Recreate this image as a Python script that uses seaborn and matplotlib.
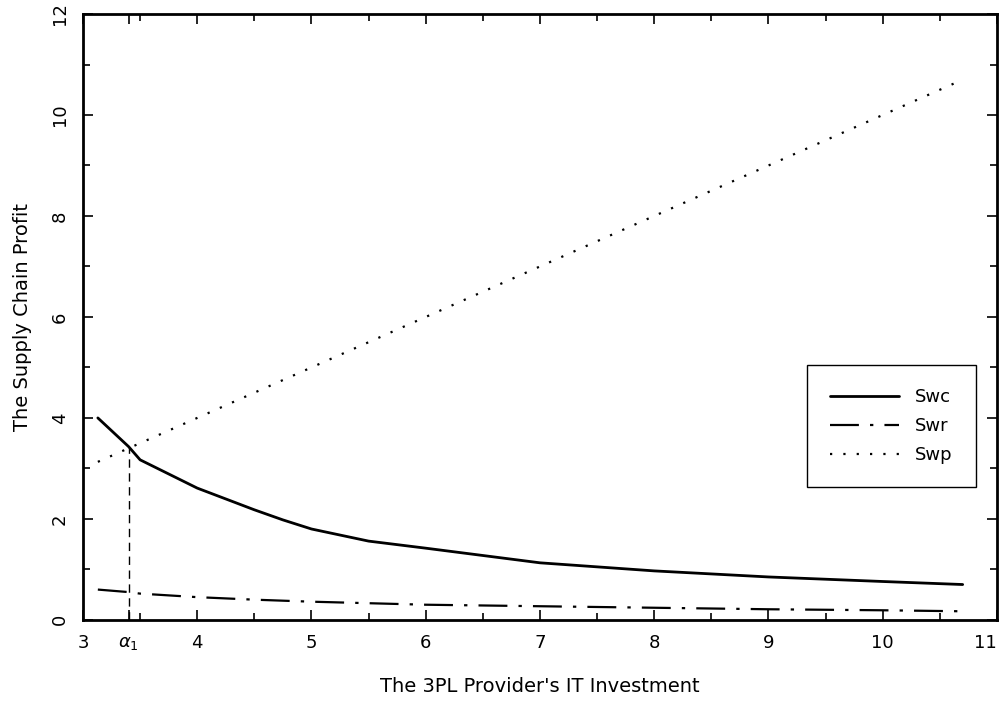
import pandas as pd
import matplotlib
matplotlib.use("Agg")
import matplotlib.pyplot as plt
from matplotlib.ticker import MultipleLocator
import seaborn as sns

# values
x_vals = [3.13, 3.4, 3.5, 4.0, 4.5, 4.75, 5.0, 5.5, 6.0, 7.0, 8.0, 9.0, 10.0, 10.7]
swc = [4.0, 3.43, 3.17, 2.61, 2.18, 1.98, 1.80, 1.56, 1.42, 1.13, 0.97, 0.85, 0.76, 0.70]
swr = [0.60, 0.55, 0.52, 0.45, 0.40, 0.38, 0.36, 0.33, 0.30, 0.27, 0.24, 0.21, 0.19, 0.17]
swp = [3.13, 3.4, 3.5, 4.0, 4.5, 4.75, 5.0, 5.5, 6.0, 7.0, 8.0, 9.0, 10.0, 10.7]
a1 = 3.4
a1_top = 3.43
xtick_pos = [3, a1, 4, 5, 6, 7, 8, 9, 10, 11]
xtick_labels = ["3", r"$\alpha_1$", "4", "5", "6", "7", "8", "9", "10", "11"]

df = pd.DataFrame({"x": x_vals, "Swc": swc, "Swr": swr, "Swp": swp})

sns.set_style("ticks")
plt.rcParams["font.family"] = ["DejaVu Sans"]
plt.rcParams["text.color"] = "black"
plt.rcParams["axes.labelcolor"] = "black"

fig = plt.figure(figsize=(10.06, 7.02), dpi=100)
ax = fig.add_axes([0.0825, 0.117, 0.9085, 0.863])

sns.lineplot(data=df, x="x", y="Swc", ax=ax, color="black", lw=2, label="Swc")
sns.lineplot(data=df, x="x", y="Swr", ax=ax, color="black", lw=1.6,
             linestyle=(0, (13, 5, 1.5, 5)), label="Swr")
sns.lineplot(data=df, x="x", y="Swp", ax=ax, color="black", lw=1.6,
             linestyle=(0, (1, 5)), label="Swp")

# dashed drop line at a1
ax.plot([a1, a1], [0, a1_top], color="black", lw=1, linestyle=(0, (6, 4)))

ax.set_xlim(3, 11)
ax.set_ylim(0, 12)
ax.set_xticks(xtick_pos)
ax.set_xticklabels(xtick_labels)
ax.xaxis.set_minor_locator(MultipleLocator(0.5))
ax.yaxis.set_major_locator(MultipleLocator(2))
ax.yaxis.set_minor_locator(MultipleLocator(1))
ax.tick_params(which="both", direction="in", top=True, right=True, width=1.2,
               labelsize=13, pad=10, colors="black")
ax.tick_params(which="major", length=7)
ax.tick_params(which="minor", length=5)
for lab in ax.get_yticklabels():
    lab.set_rotation(90)
    lab.set_va("center")
last = ax.get_xticklabels()[-1]
last.set_ha("right")
for s in ax.spines.values():
    s.set_linewidth(2)
    s.set_color("black")

ax.set_xlabel("The 3PL Provider's IT Investment", fontsize=14, labelpad=18)
ax.set_ylabel("The Supply Chain Profit", fontsize=14, labelpad=14)

leg = ax.legend(loc="upper left", bbox_to_anchor=(0.792, 0.421),
                borderaxespad=0, fontsize=13, frameon=True, fancybox=False,
                handlelength=3.8, handletextpad=0.9, labelspacing=0.6,
                borderpad=1.3)
leg.get_frame().set_edgecolor("black")
leg.get_frame().set_linewidth(1)
leg.get_frame().set_alpha(1)

fig.savefig("out.png", dpi=100)
